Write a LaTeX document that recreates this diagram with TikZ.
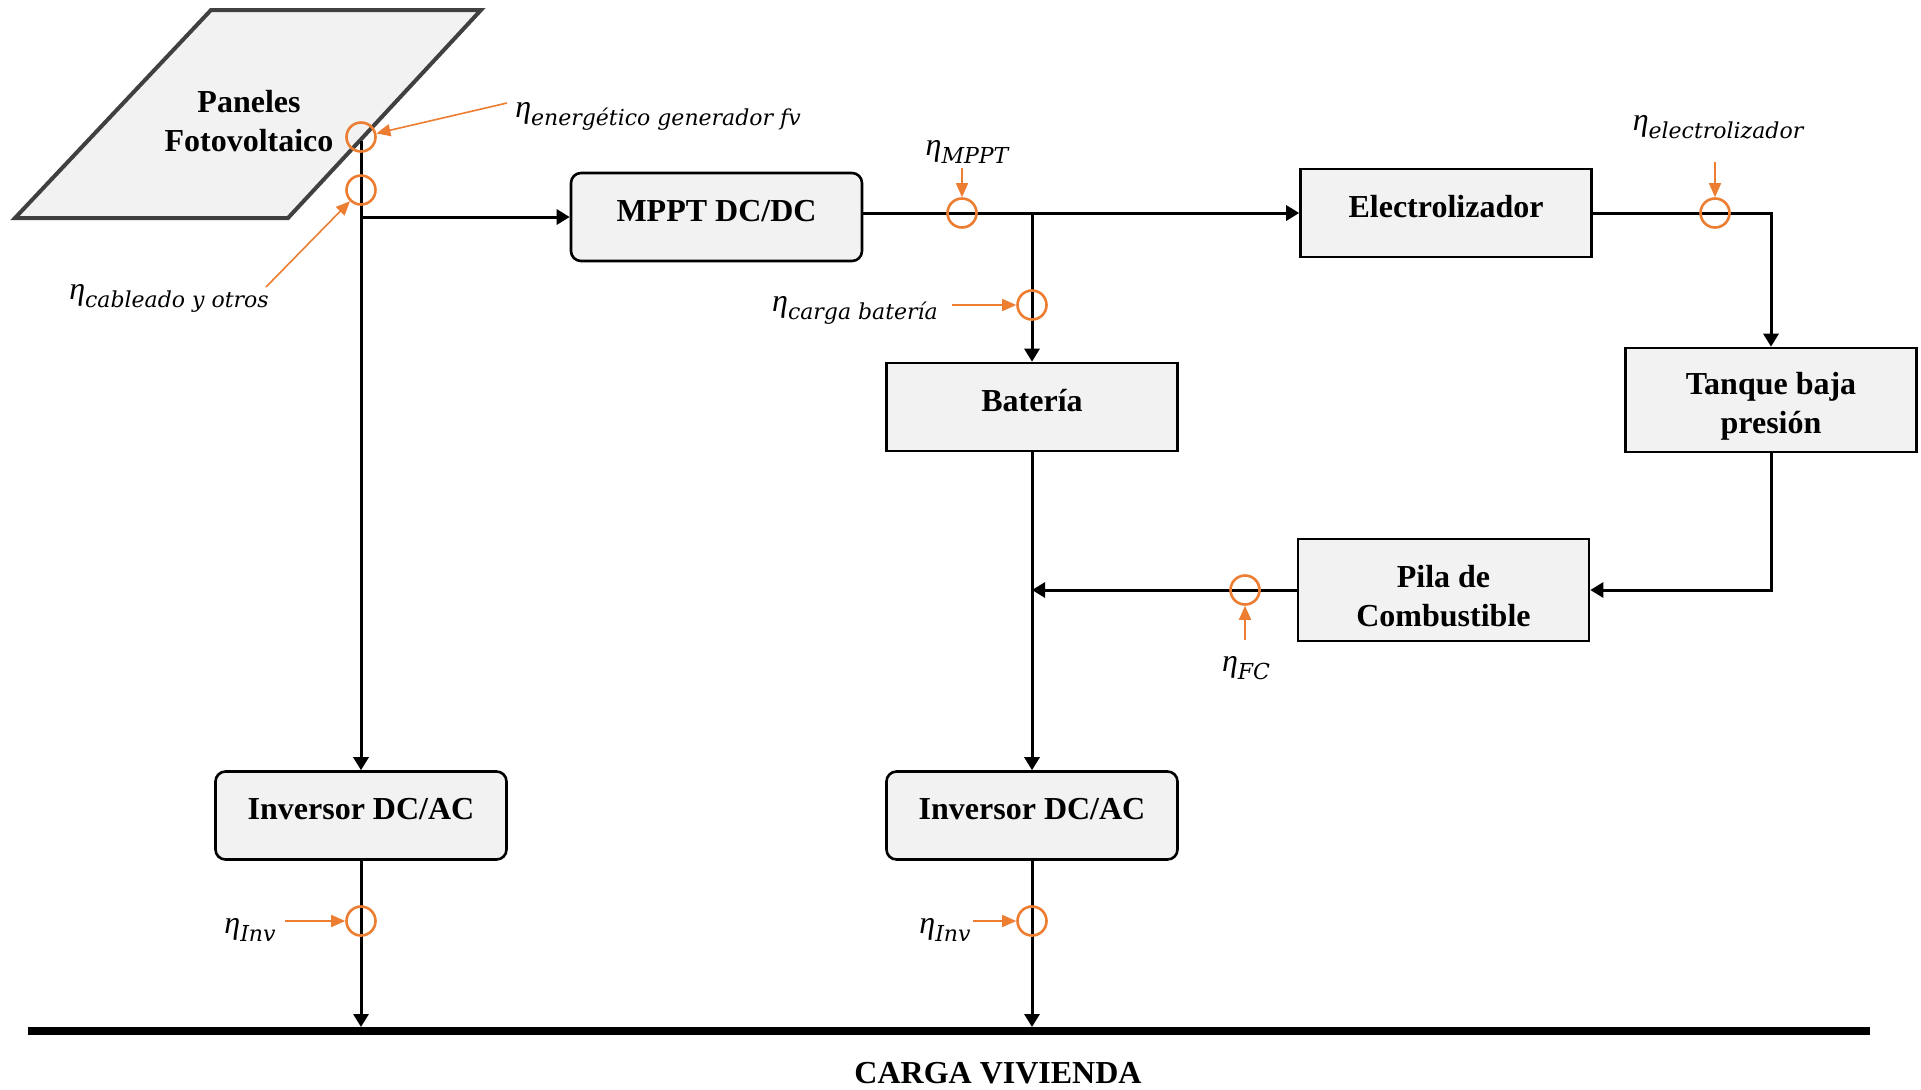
\documentclass[tikz,border=0pt]{standalone}
\usepackage{fontspec}
\setmainfont{Liberation Serif}
\newfontfamily\subfont{DejaVu Serif}
\usetikzlibrary{arrows.meta,calc}
\definecolor{boxgray}{RGB}{242,242,242}
\definecolor{panelgray}{RGB}{64,64,64}
\definecolor{effor}{RGB}{237,125,49}
% efficiency symbol with its subscript
\newcommand{\efic}[1]{\textit{η}\raisebox{-4pt}{\subfont\itshape\fontsize{11}{12}\selectfont #1}}

\begin{document}
\begin{tikzpicture}[
    x=0.5pt, y=-0.5pt,
    boxbase/.style={rectangle, draw=black, fill=boxgray, line width=1.3pt, minimum width=145.5pt,
        minimum height=44pt, align=center, inner sep=2pt, font=\fontsize{16}{19.5}\selectfont\bfseries},
    block/.style={boxbase, execute at begin node={\rule[-6.5pt]{0pt}{6.5pt}}},
    block2/.style={boxbase, execute at begin node={\rule{0pt}{36.5pt}}},
    rblock/.style={block, rounded corners=5pt},
    panel/.style={draw=panelgray, fill=boxgray, line width=2pt},
    arr/.style={-{Triangle[length=6.5pt,width=7.5pt]}, line width=1.5pt},
    bus/.style={line width=4pt},
    ring/.style={circle, draw=effor, line width=1.3pt, minimum size=14.5pt, inner sep=0pt},
    oarr/.style={-{Triangle[length=7pt,width=6pt]}, draw=effor, line width=0.8pt},
    efflabel/.style={inner sep=0pt, font=\fontsize{16}{19}\selectfont}
]
\fill[white] (0,0) rectangle (1921,1089);
\useasboundingbox (0,0) rectangle (1921,1089);

% generador fotovoltaico
\draw[panel] (15,218) -- (211,10) -- (481,10) -- (288,218) -- cycle;
\node[align=center, font=\fontsize{16}{19.5}\selectfont\bfseries] (pv) at (249,121) {Paneles\\Fotovoltaico};
\coordinate (pvout) at (361,141);

\node[rblock] (mppt) at (716.5,217) {MPPT DC/DC};
\node[block] (elec) at (1446,213) {Electrolizador};
\node[block] (bat) at (1032,407) {Batería};
\node[block2, minimum height=52pt] (tank) at (1771,400) {Tanque baja\\presión};
\node[block2, minimum height=51pt] (pila) at (1443.5,590) {Pila de\\Combustible};
\node[rblock] (inv1) at (361,815.5) {Inversor DC/AC};
\node[rblock] (inv2) at (1032,815.5) {Inversor DC/AC};

% bus de consumo
\coordinate (busL) at (28,1031);
\coordinate (busR) at (1870,1031);
\draw[bus] (busL) -- (busR);
\node[font=\fontsize{16}{19}\selectfont\bfseries] (carga) at (998,1073) {CARGA VIVIENDA};

\draw[arr] (pvout) -- (inv1.north);
\draw[arr] (pvout |- mppt.west) -- (mppt.west);
\draw[arr] (mppt.east |- elec.west) -- (elec.west);
\coordinate (jbat) at (bat.north |- elec.west);
\draw[arr] (jbat) -- (bat.north);
\draw[arr] (elec.east) -| (tank.north);
\draw[arr] (tank.south) |- (pila.east);
\draw[arr] (pila.west) -- (pila.west -| bat.south);
\draw[arr] (bat.south) -- (inv2.north);
\draw[arr, shorten >=2pt] (inv1.south) -- (inv1.south |- busL);
\draw[arr, shorten >=2pt] (inv2.south) -- (inv2.south |- busL);

% puntos de rendimiento
\node[ring] (rgen) at (361,137) {};
\node[ring] (rcab) at (361,190) {};
\node[ring] (rmppt) at (962,213) {};
\node[ring] (rbat) at (1032,305) {};
\node[ring] (relec) at (1715,213) {};
\node[ring] (rfc) at (1245,590) {};
\node[ring] (rinv1) at (361,921) {};
\node[ring] (rinv2) at (1032,921) {};

\node[efflabel] (lgen) at (658,116) {\efic{energético generador fv}};
\node[efflabel] (lcab) at (169,298) {\efic{cableado y otros}};
\node[efflabel] (lmppt) at (967,152) {\efic{MPPT}};
\node[efflabel] (lbat) at (855,310) {\efic{carga batería}};
\node[efflabel] (lelec) at (1718,127) {\efic{electrolizador}};
\node[efflabel] (lfc) at (1246,668) {\efic{FC}};
\node[efflabel] (linv1) at (250,930) {\efic{Inv}};
\node[efflabel] (linv2) at (945,930) {\efic{Inv}};

\coordinate (tgen) at (507,103);
\coordinate (tcab) at (266,287);
\coordinate (tmppt) at (962,168);
\coordinate (tbat) at (952,305);
\coordinate (telec) at (1715,162);
\coordinate (tfc) at (1245,640);
\coordinate (tinv1) at (285,921);
\coordinate (tinv2) at (973,921);
\draw[oarr] (tgen) -- (rgen);
\draw[oarr] (tcab) -- (rcab);
\draw[oarr] (tmppt) -- (rmppt);
\draw[oarr] (tbat) -- (rbat);
\draw[oarr] (telec) -- (relec);
\draw[oarr] (tfc) -- (rfc);
\draw[oarr] (tinv1) -- (rinv1);
\draw[oarr] (tinv2) -- (rinv2);
\end{tikzpicture}
\end{document}
